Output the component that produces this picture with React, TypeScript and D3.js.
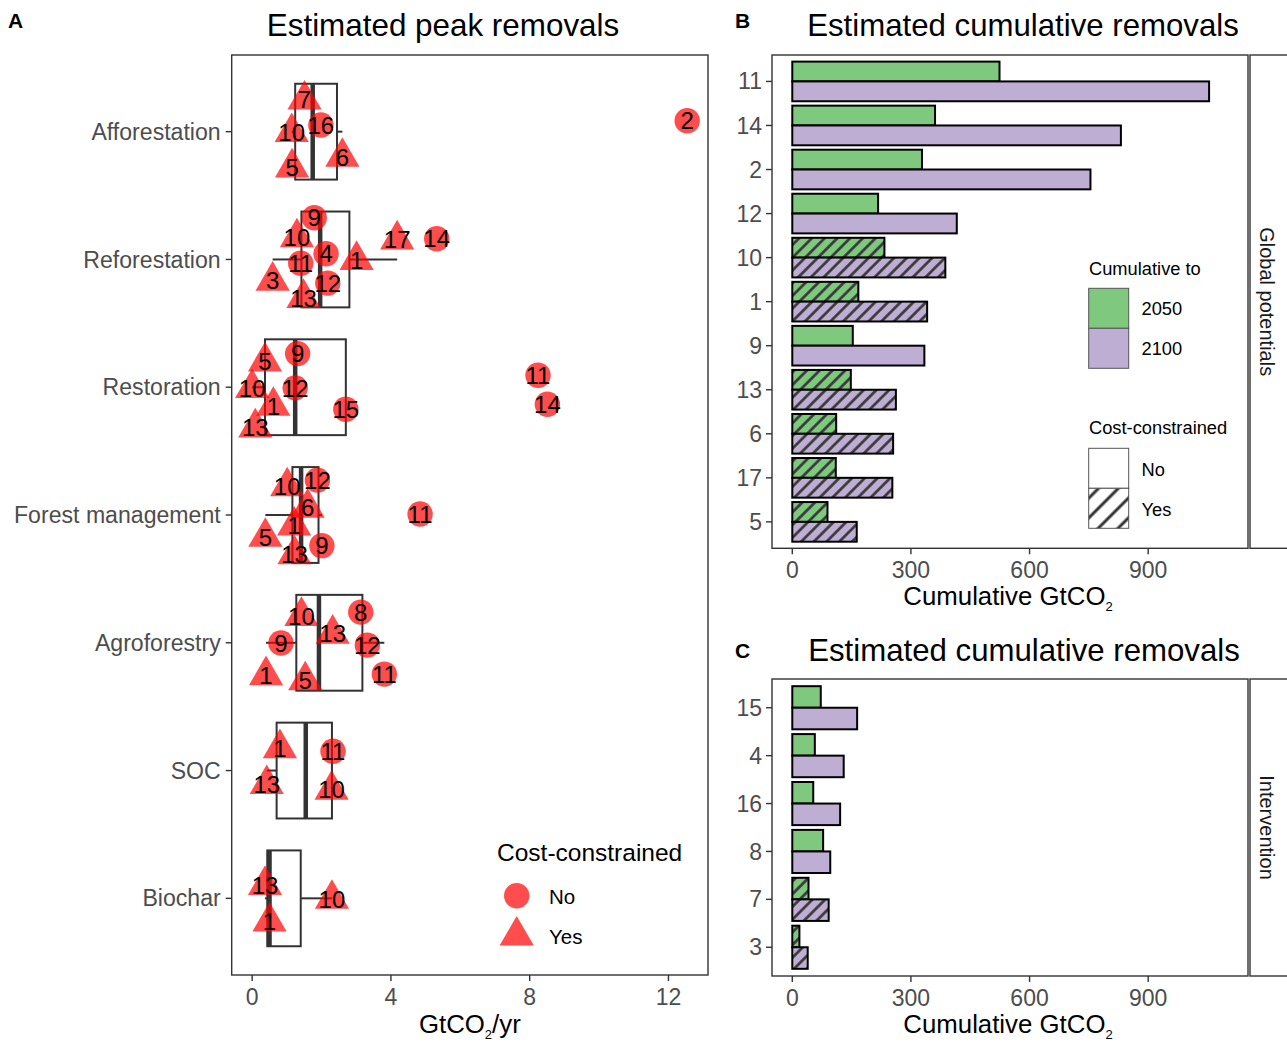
import React from 'react';
import * as d3 from 'd3';

// ---------- Panel A data ----------
const categoriesA = ['Afforestation', 'Reforestation', 'Restoration', 'Forest management', 'Agroforestry', 'SOC', 'Biochar'];
const pointCategory = [
  'Afforestation','Afforestation','Afforestation','Afforestation','Afforestation','Afforestation',
  'Reforestation','Reforestation','Reforestation','Reforestation','Reforestation','Reforestation','Reforestation','Reforestation','Reforestation','Reforestation',
  'Restoration','Restoration','Restoration','Restoration','Restoration','Restoration','Restoration','Restoration','Restoration',
  'Forest management','Forest management','Forest management','Forest management','Forest management','Forest management','Forest management','Forest management',
  'Agroforestry','Agroforestry','Agroforestry','Agroforestry','Agroforestry','Agroforestry','Agroforestry','Agroforestry',
  'SOC','SOC','SOC','SOC',
  'Biochar','Biochar','Biochar'
];
const pointStudy = [
  '7','10','16','5','6','2',
  '9','10','4','11','1','17','14','3','12','13',
  '5','9','10','12','1','15','13','11','14',
  '10','12','6','1','5','13','9','11',
  '10','8','13','9','12','1','5','11',
  '1','11','13','10',
  '13','1','10'
];
const pointValue = [
  1.51, 1.14, 1.98, 1.15, 2.60, 12.54,
  1.79, 1.29, 2.13, 1.40, 3.01, 4.18, 5.32, 0.59, 2.18, 1.48,
  0.37, 1.31, 0.00, 1.24, 0.61, 2.70, 0.09, 8.24, 8.51,
  1.01, 1.88, 1.60, 1.21, 0.38, 1.22, 2.01, 4.84,
  1.42, 3.13, 2.32, 0.83, 3.32, 0.40, 1.53, 3.81,
  0.80, 2.33, 0.42, 2.29,
  0.37, 0.50, 2.30
];
// vertical jitter, in category units
const pointJitter = [
  -0.25, 0.004, -0.052, 0.281, 0.198, -0.086,
  -0.326, -0.172, -0.045, 0.029, 0.005, -0.156, -0.162, 0.167, 0.185, 0.302,
  -0.201, -0.263, 0.008, 0.005, 0.146, 0.172, 0.316, -0.094, 0.133,
  -0.224, -0.273, -0.056, 0.084, 0.172, 0.309, 0.240, -0.008,
  -0.209, -0.240, -0.070, 0.002, 0.018, 0.255, 0.295, 0.245,
  -0.174, -0.151, 0.107, 0.151,
  -0.104, 0.183, 0.005
];
const costConstrainedYes = ['1', '3', '5', '6', '7', '10', '13', '17'];
const ticksA = [0, 4, 8, 12];

// ---------- Panel B data (Global potentials) ----------
const studiesB = ['11', '14', '2', '12', '10', '1', '9', '13', '6', '17', '5'];
const cum2050B = [524, 361, 328, 217, 233, 167, 153, 148, 111, 110, 89];
const cum2100B = [1054, 831, 754, 416, 387, 341, 334, 262, 255, 253, 163];

// ---------- Panel C data (Intervention) ----------
const studiesC = ['15', '4', '16', '8', '7', '3'];
const cum2050C = [72, 57, 53, 78, 41, 18];
const cum2100C = [164, 130, 121, 96, 92, 39];

const ticksBC = [0, 300, 600, 900];
const years = ['2050', '2100'];
const yearColors = ['#7FC97F', '#BEAED4'];

const FONT = "'Liberation Sans', Arial, Helvetica, sans-serif";
const AXIS_COL = '#333333';
const TICK_TXT = '#4D4D4D';
const PT_FILL = 'rgba(255,0,0,0.7)';
const R = 12.7;

function trianglePath(cx: number, cy: number, r: number) {
  const p = d3.path();
  p.moveTo(cx, cy - 1.5551 * r);
  p.lineTo(cx + 1.3468 * r, cy + 0.7776 * r);
  p.lineTo(cx - 1.3468 * r, cy + 0.7776 * r);
  p.closePath();
  return p.toString();
}

function BarPanel({ studies, v2050, v2100, top, bottom, strip }: any) {
  const left = 772, right = 1248;
  const x = d3.scaleLinear().domain([-51.3, 1152.4]).range([left, right]);
  const y = d3.scalePoint<string>().domain(studies).range([top, bottom]).padding(0.6);
  const step = y.step();
  const inner = d3.scaleBand<string>().domain(years).range([-0.45 * step, 0.45 * step]);
  const rows: any[] = [];
  studies.forEach((s: string, i: number) => {
    const vals = [v2050[i], v2100[i]];
    years.forEach((yr, j) => {
      rows.push({ s, yr, v: vals[j], color: yearColors[j], hatch: costConstrainedYes.includes(s) });
    });
  });
  return (
    <g>
      {rows.map((r, k) => {
        const yy = (y(r.s) as number) + (inner(r.yr) as number);
        const h = inner.bandwidth();
        const x0 = x(0), w = x(r.v) - x(0);
        return (
          <g key={k}>
            <rect x={x0} y={yy} width={w} height={h} fill={r.color} />
            {r.hatch && <rect x={x0} y={yy} width={w} height={h} fill="url(#hatchBar)" />}
            <rect x={x0} y={yy} width={w} height={h} fill="none" stroke="#000" strokeWidth={2} />
          </g>
        );
      })}
      <rect x={left} y={top} width={right - left} height={bottom - top} fill="none" stroke={AXIS_COL} strokeWidth={1.4} />
      {studies.map((s: string) => (
        <g key={s}>
          <line x1={left - 6} x2={left} y1={y(s)} y2={y(s)} stroke={AXIS_COL} strokeWidth={1.4} />
          <text x={left - 10} y={y(s)} dy="0.35em" textAnchor="end" fontSize={23} fill={TICK_TXT} fontFamily={FONT}>{s}</text>
        </g>
      ))}
      {ticksBC.map((t) => (
        <g key={t}>
          <line x1={x(t)} x2={x(t)} y1={bottom} y2={bottom + 6} stroke={AXIS_COL} strokeWidth={1.4} />
          <text x={x(t)} y={bottom + 30} textAnchor="middle" fontSize={23} fill={TICK_TXT} fontFamily={FONT}>{t}</text>
        </g>
      ))}
      <text x={(left + right) / 2 - 2} y={bottom + 57} textAnchor="middle" fontSize={25.8} fill="#000" fontFamily={FONT}>
        Cumulative GtCO<tspan fontSize={13} dy={6}>2</tspan>
      </text>
      <rect x={1250} y={top} width={60} height={bottom - top} fill="#fff" stroke={AXIS_COL} strokeWidth={1.4} />
      <text transform={`translate(1267,${(top + bottom) / 2}) rotate(90)`} textAnchor="middle" dy="0.35em" fontSize={20} fill="#1A1A1A" fontFamily={FONT}>{strip}</text>
    </g>
  );
}

export default function App() {
  const leftA = 231.7, rightA = 708, topA = 55, bottomA = 975;
  const xA = d3.scaleLinear().domain([-0.59, 13.14]).range([leftA, rightA]);
  const yA = d3.scalePoint<string>().domain(categoriesA).range([topA, bottomA]).padding(0.6);
  const stepA = yA.step();

  const pts = pointValue.map((v, i) => ({
    cat: pointCategory[i], id: pointStudy[i], v,
    yes: costConstrainedYes.includes(pointStudy[i]),
    cx: xA(v), cy: (yA(pointCategory[i]) as number) + pointJitter[i] * stepA,
  }));

  const boxes = categoriesA.map((c) => {
    const vals = pointValue.filter((_, i) => pointCategory[i] === c).sort(d3.ascending);
    const q1 = d3.quantileSorted(vals, 0.25) as number;
    const med = d3.quantileSorted(vals, 0.5) as number;
    const q3 = d3.quantileSorted(vals, 0.75) as number;
    const iqr = q3 - q1;
    const lo = d3.min(vals.filter((v) => v >= q1 - 1.5 * iqr)) as number;
    const hi = d3.max(vals.filter((v) => v <= q3 + 1.5 * iqr)) as number;
    return { c, q1, med, q3, lo, hi };
  });
  const boxH = 0.75 * stepA;

  return (
    <svg width={1287} height={1043} style={{ position: 'absolute', left: 0, top: 0, background: '#fff' }} fontFamily={FONT}>
      <defs>
        <pattern id="hatchBar" patternUnits="userSpaceOnUse" width={9} height={9} patternTransform="rotate(45)">
          <line x1={4.5} y1={-1} x2={4.5} y2={10} stroke="#333" strokeWidth={2.6} />
        </pattern>
        <pattern id="hatchKey" patternUnits="userSpaceOnUse" width={14} height={14} patternTransform="translate(1089,488) rotate(45)">
          <line x1={7} y1={-1} x2={7} y2={15} stroke="#333" strokeWidth={3} />
        </pattern>
      </defs>
      <rect x={0} y={0} width={1287} height={1043} fill="#fff" />

      {/* Panel labels and titles */}
      <text x={8} y={28} fontSize={21} fontWeight="bold" fill="#000">A</text>
      <text x={735} y={28} fontSize={21} fontWeight="bold" fill="#000">B</text>
      <text x={735} y={658} fontSize={21} fontWeight="bold" fill="#000">C</text>
      <text x={443} y={36} textAnchor="middle" fontSize={31.4} fill="#000">Estimated peak removals</text>
      <text x={1023} y={36} textAnchor="middle" fontSize={31.2} fill="#000">Estimated cumulative removals</text>
      <text x={1024} y={661} textAnchor="middle" fontSize={31.2} fill="#000">Estimated cumulative removals</text>

      {/* Panel A */}
      {boxes.map((b) => {
        const cy = yA(b.c) as number;
        return (
          <g key={b.c}>
            <line x1={xA(b.lo)} x2={xA(b.q1)} y1={cy} y2={cy} stroke={AXIS_COL} strokeWidth={2} />
            <line x1={xA(b.q3)} x2={xA(b.hi)} y1={cy} y2={cy} stroke={AXIS_COL} strokeWidth={2} />
            <rect x={xA(b.q1)} y={cy - boxH / 2} width={xA(b.q3) - xA(b.q1)} height={boxH} fill="#fff" stroke={AXIS_COL} strokeWidth={2} />
            <line x1={xA(b.med)} x2={xA(b.med)} y1={cy - boxH / 2} y2={cy + boxH / 2} stroke={AXIS_COL} strokeWidth={4.5} />
          </g>
        );
      })}
      {pts.map((p, i) => p.yes
        ? <path key={i} d={trianglePath(p.cx, p.cy, R)} fill={PT_FILL} />
        : <circle key={i} cx={p.cx} cy={p.cy} r={R} fill={PT_FILL} />)}
      {pts.map((p, i) => (
        <text key={i} x={p.cx} y={p.cy} dy="0.36em" textAnchor="middle" fontSize={24} fill="#000">{p.id}</text>
      ))}
      <rect x={leftA} y={topA} width={rightA - leftA} height={bottomA - topA} fill="none" stroke={AXIS_COL} strokeWidth={1.4} />
      {categoriesA.map((c) => (
        <g key={c}>
          <line x1={leftA - 6} x2={leftA} y1={yA(c)} y2={yA(c)} stroke={AXIS_COL} strokeWidth={1.4} />
          <text x={leftA - 11} y={yA(c)} dy="0.35em" textAnchor="end" fontSize={23.1} fill={TICK_TXT}>{c}</text>
        </g>
      ))}
      {ticksA.map((t) => (
        <g key={t}>
          <line x1={xA(t)} x2={xA(t)} y1={bottomA} y2={bottomA + 6} stroke={AXIS_COL} strokeWidth={1.4} />
          <text x={xA(t)} y={bottomA + 30} textAnchor="middle" fontSize={23} fill={TICK_TXT}>{t}</text>
        </g>
      ))}
      <text x={(leftA + rightA) / 2} y={1033} textAnchor="middle" fontSize={25.8} fill="#000">
        GtCO<tspan fontSize={13} dy={6}>2</tspan><tspan dy={-6}>/yr</tspan>
      </text>
      {/* Legend A */}
      <text x={497} y={861} fontSize={24.5} fill="#000">Cost-constrained</text>
      <circle cx={516.7} cy={895.7} r={R} fill={PT_FILL} />
      <path d={trianglePath(516.7, 935.7, R)} fill={PT_FILL} />
      <text x={549} y={904} fontSize={20.5} fill="#000">No</text>
      <text x={549} y={943.5} fontSize={20.5} fill="#000">Yes</text>

      {/* Panel B */}
      <BarPanel studies={studiesB} v2050={cum2050B} v2100={cum2100B} top={55} bottom={548.3} strip="Global potentials" />
      {/* Panel C */}
      <BarPanel studies={studiesC} v2050={cum2050C} v2100={cum2100C} top={679} bottom={976} strip="Intervention" />

      {/* Legend B */}
      <text x={1089} y={275} fontSize={18.3} fill="#000">Cumulative to</text>
      {years.map((yr, j) => (
        <g key={yr}>
          <rect x={1088.7} y={288.3 + j * 40} width={40} height={40} fill={yearColors[j]} stroke="#555" strokeWidth={1} />
          <text x={1141.5} y={315 + j * 40} fontSize={18.3} fill="#000">{yr}</text>
        </g>
      ))}
      <text x={1089} y={434} fontSize={18.3} fill="#000">Cost-constrained</text>
      <rect x={1088.7} y={448.3} width={40} height={40} fill="#fff" stroke="#555" strokeWidth={1} />
      <rect x={1088.7} y={488.3} width={40} height={40} fill="#fff" />
      <rect x={1088.7} y={488.3} width={40} height={40} fill="url(#hatchKey)" stroke="#555" strokeWidth={1} />
      <text x={1141.5} y={476} fontSize={18.3} fill="#000">No</text>
      <text x={1141.5} y={516} fontSize={18.3} fill="#000">Yes</text>
    </svg>
  );
}
